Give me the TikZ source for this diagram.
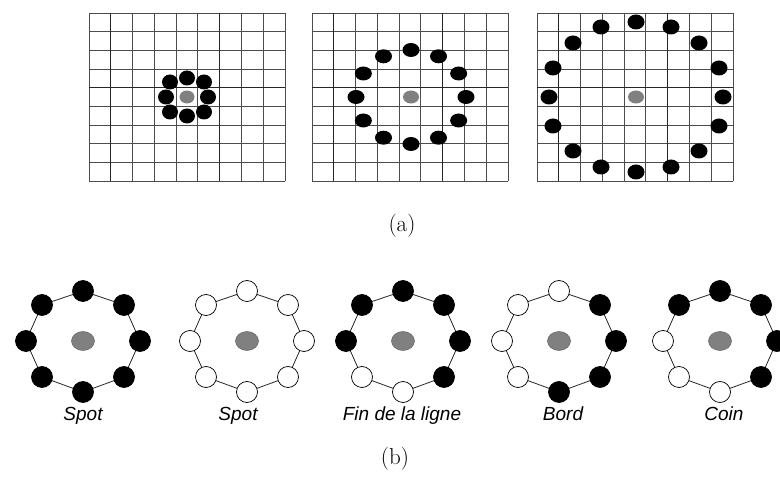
\documentclass[tikz,border=0pt]{standalone}
\usepackage{fontspec}
\newfontfamily\labfont{Liberation Sans}
\usetikzlibrary{shapes.geometric}
\begin{document}
\begin{tikzpicture}[x=1pt,y=-1pt,
  gline/.style={draw=black!70, line width=0.8pt},
  gthick/.style={draw=black!85, line width=1.3pt},
  gdot/.style={ellipse, fill=black, inner sep=0pt, minimum width=16pt, minimum height=15pt},
  gcen/.style={fill=gray},
  bdot/.style={circle, draw=black, fill=black, line width=0.7pt, inner sep=0pt, minimum size=21pt},
  wdot/.style={circle, draw=black, fill=white, line width=0.7pt, inner sep=0pt, minimum size=21pt},
  pcen/.style={fill=gray, draw=black!60, line width=0.5pt},
  ring/.style={draw=black!85, line width=0.8pt},
  lab/.style={anchor=base, inner sep=0pt, font=\labfont\itshape\fontsize{19}{22}\selectfont},
  captxt/.style={anchor=base, inner sep=0pt, font=\fontsize{23}{27}\selectfont}]
\useasboundingbox (0,0) rectangle (780,478);

% ---------- (a) grids ----------
\foreach \gx in {89,312,537} {
  \foreach \i in {0,...,9} {
    \draw[gline] ({\gx+\i*196/9},13) -- ({\gx+\i*196/9},181);
    \draw[gline] (\gx,{13+\i*168/9}) -- ({\gx+196},{13+\i*168/9});
  }
  \draw[gthick] (\gx,{13+4*168/9}) -- ({\gx+196},{13+4*168/9});
  \draw[gthick] ({\gx+196/9},13) -- ({\gx+196/9},181);
  \draw[gthick] ({\gx+6*196/9},13) -- ({\gx+6*196/9},181);
}

% grid 1
\coordinate (c1) at (187,97);
\fill[gcen] (c1) ellipse [x radius=7.5pt, y radius=6.5pt];
\foreach \dx/\dy [count=\k] in {0/-19, 17/-15, 21/0, 17/15, 0/19, -17/15, -21/0, -17/-15}
  \node[gdot] (g1-\k) at ({187+\dx},{97+\dy}) {};

% grid 2
\coordinate (c2) at (411,97);
\fill[gcen] (c2) ellipse [x radius=8pt, y radius=6.5pt];
\foreach \k in {0,...,11}
  \node[gdot, minimum width=17pt, minimum height=14pt] (g2-\k) at ({411+55*sin(30*\k)},{97-47*cos(30*\k)}) {};

% grid 3
\coordinate (c3) at (636,97);
\fill[gcen] (c3) ellipse [x radius=8pt, y radius=6.5pt];
\foreach \dx/\dy [count=\k] in {0/-75, 35/-70, 63/-54, 83/-29, 87/0, 83/29, 63/54, 35/70, 0/75, -35/70, -63/54, -83/29, -87/0, -83/-29, -63/-54, -35/-70}
  \node[gdot, minimum width=17pt, minimum height=15pt] (g3-\k) at ({636+\dx},{97+\dy}) {};

\node[captxt] (capa) at (402,232) {(a)};

% ---------- (b) patterns ----------
\foreach \px/\cols [count=\p] in {
   83/{bdot,bdot,bdot,bdot,bdot,bdot,bdot,bdot},
   247/{wdot,wdot,wdot,wdot,wdot,wdot,wdot,wdot},
   403/{bdot,bdot,bdot,bdot,wdot,wdot,bdot,bdot},
   559/{wdot,bdot,bdot,bdot,bdot,wdot,wdot,wdot},
   720/{bdot,bdot,bdot,bdot,wdot,wdot,wdot,bdot}} {
  \coordinate (pc\p) at (\px,341);
  \filldraw[pcen] (pc\p) ellipse [x radius=11.5pt, y radius=9.5pt];
  \foreach \dx/\dy [count=\k] in {0/-50, 41/-36, 57/0, 41/36, 0/51, -41/36, -57/0, -41/-36}
    \coordinate (q\p-\k) at ({\px+\dx},{341+\dy});
  \draw[ring] (q\p-1) -- (q\p-2) -- (q\p-3) -- (q\p-4) -- (q\p-5) -- (q\p-6) -- (q\p-7) -- (q\p-8) -- cycle;
  \foreach \st [count=\k] in \cols
    \node[\st] (d\p-\k) at (q\p-\k) {};
}
\node[lab] (l1) at (83,421) {Spot};
\node[lab] (l2) at (238,421) {Spot};
\node[lab] (l3) at (402,421) {Fin de la ligne};
\node[lab] (l4) at (563,421) {Bord};
\node[lab] (l5) at (724,421) {Coin};

\node[captxt] (capb) at (395,465) {(b)};
\end{tikzpicture}
\end{document}
